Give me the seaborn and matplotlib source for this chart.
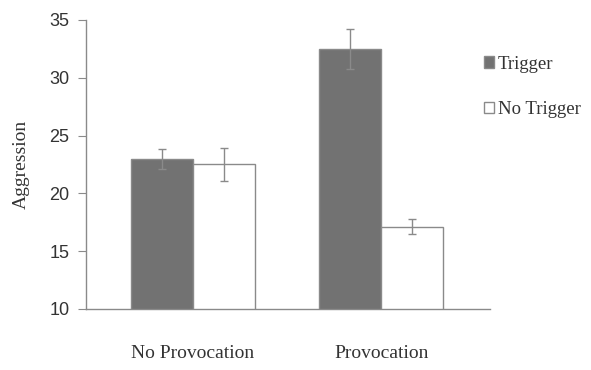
import numpy as np
import pandas as pd
import seaborn as sns
import matplotlib.pyplot as plt

# значения
conditions = ['No Provocation', 'Provocation']
groups = ['Trigger', 'No Trigger']
trigger_means = [23.0, 32.5]
no_trigger_means = [22.5, 17.1]
trigger_err = [0.85, 1.75]
no_trigger_err = [1.4, 0.65]

df = pd.DataFrame({
    'condition': conditions * 2,
    'group': [groups[0]] * 2 + [groups[1]] * 2,
    'aggression': trigger_means + no_trigger_means,
    'err': trigger_err + no_trigger_err,
})

sns.set_style('white')
plt.rcParams['font.family'] = ['Liberation Serif', 'DejaVu Serif']

fig = plt.figure(figsize=(5.91, 3.70), dpi=100)
ax = fig.add_axes([0.1455, 0.165, 0.684, 0.781])

sns.barplot(data=df, x='condition', y='aggression', hue='group',
            order=conditions, hue_order=groups,
            palette={'Trigger': '#727272', 'No Trigger': '#ffffff'},
            width=0.66, errorbar=None, edgecolor='#8a8a8a', linewidth=1.0,
            ax=ax)

# планки погрешностей по центрам столбцов
bars = [p for p in ax.patches if p.get_height() > 0]
for bar in bars:
    cx = bar.get_x() + bar.get_width() / 2
    h = bar.get_y() + bar.get_height()
    row = df[np.isclose(df.aggression, h)].iloc[0]
    ax.errorbar(cx, h, yerr=row.err, color='#8a8a8a', capsize=3,
                elinewidth=1, capthick=1)

ax.set_ylim(10, 35)
ax.set_yticks([10, 15, 20, 25, 30, 35])
ax.set_xlim(-0.569, 1.58)
ax.set_xlabel('')
ax.set_ylabel('Aggression', fontsize=14, color='#333333', labelpad=14)
for lbl in ax.get_yticklabels():
    lbl.set_family(['Liberation Sans', 'DejaVu Sans'])
    lbl.set_fontsize(13)
    lbl.set_color('#333333')
ax.tick_params(axis='y', length=6, width=0.8, color='#8a8a8a', pad=6, left=True)
ax.tick_params(axis='x', length=0, labelsize=14, labelcolor='#333333', pad=26)

for side in ['top', 'right']:
    ax.spines[side].set_visible(False)
for side in ['left', 'bottom']:
    ax.spines[side].set_color('#8a8a8a')
    ax.spines[side].set_linewidth(1.0)

handles, labels = ax.get_legend_handles_labels()
ax.legend(handles, labels, loc='upper left', bbox_to_anchor=(0.79, 0.895),
          bbox_transform=fig.transFigure, frameon=False, fontsize=13.5,
          handlelength=0.55, handleheight=0.55, handletextpad=0.2,
          labelspacing=1.5, labelcolor='#333333')

fig.savefig('out.png', dpi=100)
